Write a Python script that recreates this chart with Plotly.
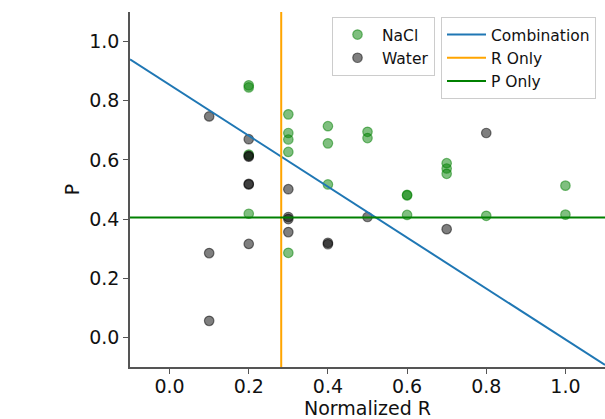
import plotly.graph_objects as go

# Normalized R / P measurements per condition
nacl_r = [0.2, 0.2, 0.2, 0.2,
          0.3, 0.3, 0.3, 0.3, 0.3,
          0.4, 0.4, 0.4,
          0.5, 0.5,
          0.6, 0.6, 0.6,
          0.7, 0.7, 0.7,
          0.8,
          1.0, 1.0]
nacl_p = [0.852, 0.845, 0.618, 0.418,
          0.754, 0.691, 0.669, 0.627, 0.286,
          0.714, 0.656, 0.517,
          0.695, 0.674,
          0.482, 0.480, 0.414,
          0.589, 0.571, 0.553,
          0.411,
          0.513, 0.415]

water_r = [0.1, 0.1, 0.1,
           0.2, 0.2, 0.2, 0.2, 0.2, 0.2,
           0.3, 0.3, 0.3, 0.3,
           0.4, 0.4,
           0.5,
           0.7,
           0.8]
water_p = [0.747, 0.285, 0.056,
           0.670, 0.614, 0.611, 0.519, 0.517, 0.316,
           0.501, 0.407, 0.400, 0.356,
           0.320, 0.315,
           0.407,
           0.366,
           0.691]

# Decision boundaries
r_only_threshold = 0.282
p_only_threshold = 0.405
combo_intercept = 0.854
combo_slope = -0.861

x_range = [-0.1, 1.1]
y_range = [-0.1, 1.1]
ticks = [0.0, 0.2, 0.4, 0.6, 0.8, 1.0]

FONT = "DejaVu Sans"
AXIS_COLOR = "#555555"
TEXT_COLOR = "#111111"
title_font = dict(family=FONT, size=19, color=TEXT_COLOR)

fig = go.Figure()

fig.add_trace(go.Scatter(
    x=nacl_r, y=nacl_p, mode="markers", name="NaCl", legend="legend",
    marker=dict(size=9.5, color="rgba(0,128,0,0.5)",
                line=dict(width=1.2, color="rgba(0,128,0,0.5)")),
))
fig.add_trace(go.Scatter(
    x=water_r, y=water_p, mode="markers", name="Water", legend="legend",
    marker=dict(size=9.5, color="rgba(0,0,0,0.5)",
                line=dict(width=1.2, color="rgba(0,0,0,0.5)")),
))

combo_y = [combo_intercept + combo_slope * x for x in x_range]
fig.add_trace(go.Scatter(
    x=x_range, y=combo_y, mode="lines", name="Combination", legend="legend2",
    line=dict(color="#1f77b4", width=2),
))
fig.add_trace(go.Scatter(
    x=[r_only_threshold, r_only_threshold], y=y_range, mode="lines",
    name="R Only", legend="legend2",
    line=dict(color="orange", width=2),
))
fig.add_trace(go.Scatter(
    x=x_range, y=[p_only_threshold, p_only_threshold], mode="lines",
    name="P Only", legend="legend2",
    line=dict(color="green", width=2),
))

legend_style = dict(
    font=dict(family=FONT, size=15.5, color=TEXT_COLOR),
    bgcolor="white", bordercolor="#cccccc", borderwidth=1,
    xref="container", yref="container",
    xanchor="left", yanchor="top",
    itemwidth=39, tracegroupgap=0,
)

fig.update_layout(
    width=605, height=419,
    margin=dict(l=130, r=0, t=12, b=52, autoexpand=False),
    paper_bgcolor="white", plot_bgcolor="white",
    font=dict(family=FONT, size=19, color=TEXT_COLOR),
    showlegend=True,
    legend=dict(x=332 / 605, y=1 - 17 / 419, **legend_style),
    legend2=dict(x=441 / 605, y=1 - 17 / 419, **legend_style),
    xaxis=dict(
        range=x_range, tickvals=ticks, tickformat=".1f",
        showgrid=False, zeroline=False,
        showline=True, linecolor=AXIS_COLOR, linewidth=1.5,
        ticks="outside", ticklen=5, tickwidth=1.2, tickcolor=AXIS_COLOR,
        ticklabelstandoff=-4,
        title=dict(text="Normalized R", standoff=9, font=title_font),
    ),
    yaxis=dict(
        range=y_range, tickvals=ticks, tickformat=".1f",
        showgrid=False, zeroline=False,
        showline=True, linecolor=AXIS_COLOR, linewidth=1.5,
        ticks="outside", ticklen=5, tickwidth=1.2, tickcolor=AXIS_COLOR,
        title=dict(text="P", standoff=5, font=title_font),
    ),
)

fig.write_html("out.html")
